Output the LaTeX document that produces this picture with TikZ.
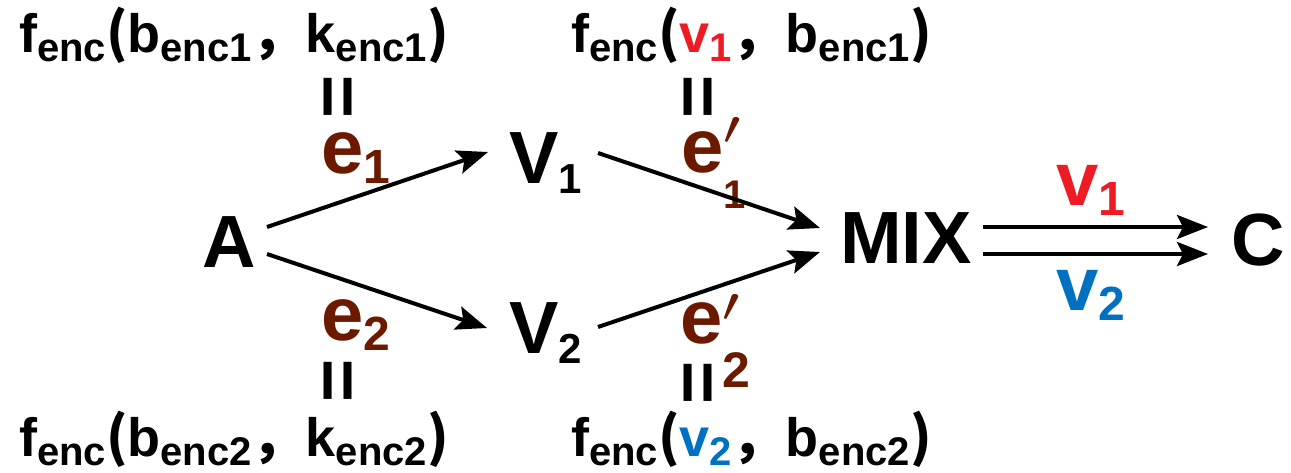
\documentclass[tikz,border=0pt]{standalone}
\usepackage{fontspec}
\usepackage{graphicx}
\setmainfont{Liberation Sans}
\newfontfamily\cjk{Noto Sans CJK SC}
\usetikzlibrary{arrows.meta}
\definecolor{ebrown}{RGB}{107,26,0}
\definecolor{vred}{RGB}{237,28,36}
\definecolor{vblue}{RGB}{0,112,192}
\newcommand{\lo}[1]{\raisebox{-9pt}{\fontsize{40}{40}\selectfont #1}}
\newcommand{\vsub}[1]{\raisebox{-10pt}{\fontsize{42}{42}\selectfont #1}}
\newcommand{\esub}[1]{\raisebox{-10pt}{\fontsize{48}{48}\selectfont #1}}
\newcommand{\pr}[1]{\raisebox{#1}{\scalebox{2.5}[1.95]{\fontsize{24.88}{25}\selectfont$\prime$}}}
\newcommand{\lp}{{\cjk (}}
\newcommand{\rp}{{\cjk )}}
\newcommand{\cm}{{\cjk ，}}
\begin{document}
\begin{tikzpicture}[x=1pt,y=-1pt,
  big/.style={font=\bfseries\fontsize{74}{74}\selectfont, inner sep=0pt, outer sep=0pt, anchor=base west},
  lbl/.style={font=\bfseries\fontsize{54}{54}\selectfont, inner sep=0pt, anchor=base west},
  elbl/.style={font=\bfseries\fontsize{76}{76}\selectfont, text=ebrown, inner sep=0pt, anchor=base west},
  vlbl/.style={font=\bfseries\fontsize{76}{76}\selectfont, inner sep=0pt, anchor=base west},
  eqs/.style={font=\bfseries\fontsize{74}{74}\selectfont, rotate=90, inner sep=0pt},
  arr/.style={line width=4pt, -{Stealth[length=31pt,width=24pt,inset=6pt]}}
]
\useasboundingbox (0,0) rectangle (1291,472);
% main nodes
\node[big] (A) at (202,267) {A};
\node[big] (V1) at (509,183) {V\vsub{1}};
\node[big] (V2) at (509,353) {V\vsub{2}};
\node[big] (MIX) at (840,263) {MIX};
\node[big] (C) at (1231,265) {C};
% edge labels
\node[elbl] (e1) at (321,173) {e\esub{1}};
\node[elbl] (e2) at (321,340) {e\esub{2}};
\node[elbl] (ep1) at (681,172) {e\rlap{\kern0pt\pr{28pt}}\raisebox{-36pt}{\fontsize{40}{40}\selectfont 1}};
\node[elbl] (ep2) at (680,343) {e\rlap{\kern0pt\pr{22pt}}\raisebox{-44pt}{\fontsize{50}{50}\selectfont 2}};
\node[vlbl, text=vred] (v1) at (1056,205) {v\esub{1}};
\node[vlbl, text=vblue] (v2) at (1056,310) {v\esub{2}};
% formulas
\node[lbl] (t1) at (19,52) {f\lo{enc}\lp b\lo{enc1}\cm k\lo{enc1}\rp};
\node[lbl] (t2) at (571,52) {f\lo{enc}\lp\textcolor{vred}{v\lo{1}}\cm b\lo{enc1}\rp};
\node[lbl] (b1) at (19,456) {f\lo{enc}\lp b\lo{enc2}\cm k\lo{enc2}\rp};
\node[lbl] (b2) at (571,456) {f\lo{enc}\lp\textcolor{vblue}{v\lo{2}}\cm b\lo{enc2}\rp};
% equals signs
\node[eqs] (q1) at (343,97) {=};
\node[eqs] (q2) at (703,97) {=};
\node[eqs] (q3) at (343,381) {=};
\node[eqs] (q4) at (703,383) {=};
% connectors
\draw[arr] ([xshift=65pt,yshift=40pt]A.base west) -- ([xshift=-21pt,yshift=31pt]V1.base west);
\draw[arr] ([xshift=65pt,yshift=13pt]A.base west) -- ([xshift=-22pt,yshift=25pt]V2.base west);
\draw[arr] ([xshift=89pt,yshift=30pt]V1.base west) -- ([xshift=-20pt,yshift=35pt]MIX.base west);
\draw[arr] ([xshift=89pt,yshift=26pt]V2.base west) -- ([xshift=-20pt,yshift=11pt]MIX.base west);
\draw[arr] ([xshift=143pt,yshift=36pt]MIX.base west) -- ([xshift=-23pt,yshift=38pt]C.base west);
\draw[arr] ([xshift=143pt,yshift=9pt]MIX.base west) -- ([xshift=-23pt,yshift=11pt]C.base west);
\end{tikzpicture}
\end{document}
